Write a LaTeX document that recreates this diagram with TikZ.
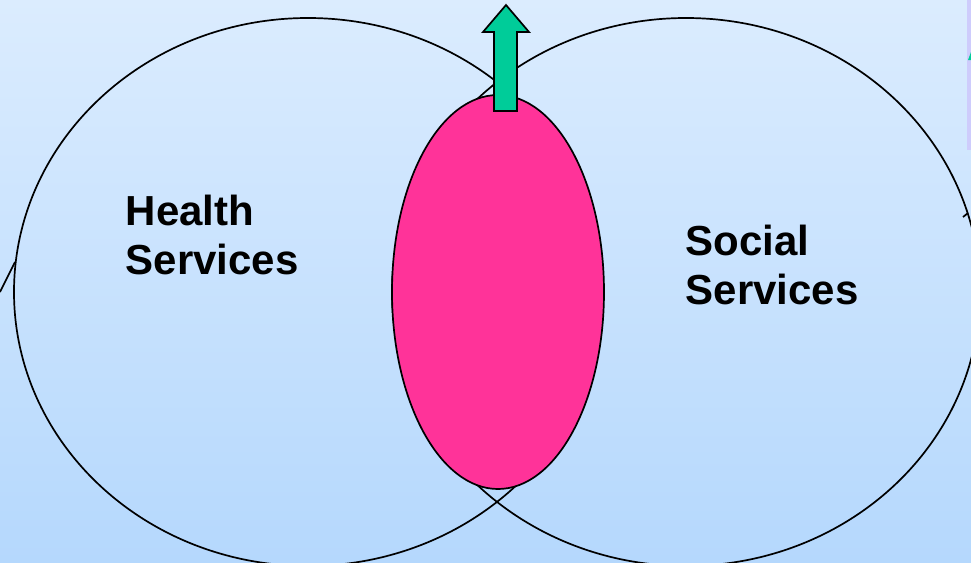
\documentclass[tikz,border=0pt]{standalone}
\usepackage{fontspec}
\setmainfont{Liberation Sans}
\usetikzlibrary{shapes.geometric}
\definecolor{bgtop}{RGB}{219,236,254}
\definecolor{bgbottom}{RGB}{181,216,253}
\definecolor{overlappink}{RGB}{255,51,153}
\definecolor{upgreen}{RGB}{0,204,153}
\definecolor{lavender}{RGB}{206,204,252}

\begin{document}
\begin{tikzpicture}[x=1pt, y=-1pt, line width=1.7pt,
    area/.style = {draw, ellipse, minimum width=588pt, minimum height=548pt, inner sep=0pt, outer sep=0pt},
    areaname/.style = {font=\bfseries\fontsize{42}{49}\selectfont, align=left, anchor=north west, inner sep=0pt}]
    \useasboundingbox (0,0) rectangle (971,562);
    \clip (0,0) rectangle (971,562);
    \shade[top color=bgtop, bottom color=bgbottom] (0,0) rectangle (971,562);
    \fill[lavender] (967,0) rectangle (971,150);
    \fill[upgreen] (968,60) -- (971,52) -- (971,60) -- cycle;
    % the two services
    \node[area] (health) at (308,292) {};
    \node[area] (social) at (686,292) {};
    \node[draw, ellipse, fill=overlappink, minimum width=212pt, minimum height=394pt, inner sep=0pt] (overlap) at (498,292) {};
    \node[areaname] (healthname) at (125,194) {Health\\Services};
    \node[areaname] (socialname) at (685,224) {Social\\Services};
    % stubs at the edges
    \coordinate (offleft) at (0,292);
    \coordinate (stub) at (15,262);
    \draw (offleft) -- (stub);
    \coordinate (exit) at (968,213);
    \coordinate (spur) at (963,217);
    \draw (exit) -- (spur);
    % arrow out of the overlap
    \draw[fill=upgreen, line join=miter] (494,111) -- (494,32) -- (483,32) -- (506,5) -- (529,32) -- (517,32) -- (517,111) -- cycle;
\end{tikzpicture}
\end{document}
